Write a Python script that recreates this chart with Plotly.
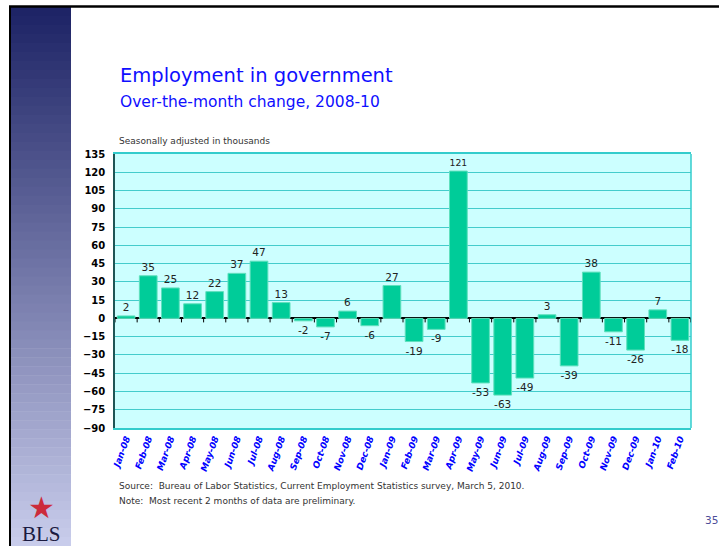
import plotly.graph_objects as go

months = ["Jan-08", "Feb-08", "Mar-08", "Apr-08", "May-08", "Jun-08", "Jul-08", "Aug-08",
          "Sep-08", "Oct-08", "Nov-08", "Dec-08", "Jan-09", "Feb-09", "Mar-09", "Apr-09",
          "May-09", "Jun-09", "Jul-09", "Aug-09", "Sep-09", "Oct-09", "Nov-09", "Dec-09",
          "Jan-10", "Feb-10"]
changes = [2, 35, 25, 12, 22, 37, 47, 13, -2, -7, 6, -6, 27, -19, -9, 121,
           -53, -63, -49, 3, -39, 38, -11, -26, 7, -18]
y_ticks = list(range(-90, 136, 15))

W, H = 719, 546
L, R, T, B = 115, 691, 154, 428


def px(x):
    return (x - L) / (R - L)


def py(y):
    return (B - y) / (B - T)


idx = list(range(len(months)))

fig = go.Figure()
fig.add_trace(go.Bar(
    x=idx, y=changes, width=0.8,
    marker=dict(color="#00cc99", line=dict(color="#5fe0bd", width=1)),
    text=[str(v) for v in changes], textposition="outside",
    textfont=dict(family="DejaVu Sans", size=10.5, color="#222222"),
    cliponaxis=False, hoverinfo="skip",
))

shapes = []
# left navy gradient panel
top_c = (30, 36, 102)
bot_c = (200, 204, 235)
n = 60
y0p, y1p = 7, 546
for i in range(n):
    t = i / (n - 1)
    c = tuple(int(top_c[k] + (bot_c[k] - top_c[k]) * t) for k in range(3))
    ya = y0p + (y1p - y0p) * i / n
    yb = y0p + (y1p - y0p) * (i + 1) / n + 0.5
    shapes.append(dict(type="rect", xref="paper", yref="paper",
                       x0=px(11), x1=px(71), y0=py(ya), y1=py(yb),
                       fillcolor="rgb(%d,%d,%d)" % c, line=dict(width=0), layer="below"))
# black frame lines
shapes.append(dict(type="line", xref="paper", yref="paper", x0=px(9), x1=px(719),
                   y0=py(6.5), y1=py(6.5), line=dict(color="black", width=2.5)))
shapes.append(dict(type="line", xref="paper", yref="paper", x0=px(10), x1=px(10),
                   y0=py(6), y1=py(546), line=dict(color="black", width=2)))
# right border of plot
shapes.append(dict(type="line", xref="paper", yref="paper", x0=1, x1=1, y0=0, y1=1,
                   line=dict(color="#33cccc", width=1.5)))
# category tick marks on zero line
for i in range(len(months) + 1):
    shapes.append(dict(type="line", xref="x", yref="y", x0=i - 0.5, x1=i - 0.5,
                       ysizemode="pixel", yanchor=0, y0=0, y1=-4,
                       line=dict(color="black", width=1)))

annotations = [
    dict(text="Employment in government", x=px(118), y=py(75), xref="paper", yref="paper",
         xanchor="left", yanchor="middle", showarrow=False,
         font=dict(family="DejaVu Sans", size=19.5, color="#0f0fff")),
    dict(text="Over-the-month change, 2008-10", x=px(118), y=py(102), xref="paper", yref="paper",
         xanchor="left", yanchor="middle", showarrow=False,
         font=dict(family="DejaVu Sans", size=15.5, color="#0f0fff")),
    dict(text="Seasonally adjusted in thousands", x=px(117), y=py(141), xref="paper", yref="paper",
         xanchor="left", yanchor="middle", showarrow=False,
         font=dict(family="DejaVu Sans", size=9, color="#333333")),
    dict(text="Source:  Bureau of Labor Statistics, Current Employment Statistics survey, March 5, 2010.",
         x=px(117), y=py(486), xref="paper", yref="paper", xanchor="left", yanchor="middle",
         showarrow=False, font=dict(family="DejaVu Sans", size=9, color="#333333")),
    dict(text="Note:  Most recent 2 months of data are preliminary.",
         x=px(117), y=py(501), xref="paper", yref="paper", xanchor="left", yanchor="middle",
         showarrow=False, font=dict(family="DejaVu Sans", size=9, color="#333333")),
    dict(text="35", x=px(703), y=py(520), xref="paper", yref="paper", xanchor="left",
         yanchor="middle", showarrow=False,
         font=dict(family="DejaVu Sans", size=10.5, color="#4d4d99")),
    dict(text="★", x=px(41), y=py(507), xref="paper", yref="paper", xanchor="center",
         yanchor="middle", showarrow=False,
         font=dict(family="DejaVu Sans", size=30, color="#cc2b3b")),
    dict(text="BLS", x=px(41), y=py(534), xref="paper", yref="paper", xanchor="center",
         yanchor="middle", showarrow=False,
         font=dict(family="Liberation Serif", size=21, color="#1a1a40")),
]

fig.update_layout(
    width=W, height=H,
    margin=dict(l=L, r=W - R, t=T, b=H - B),
    paper_bgcolor="white", plot_bgcolor="#ccffff",
    showlegend=False, bargap=0.2,
    shapes=shapes, annotations=annotations,
    xaxis=dict(range=[-0.5, len(months) - 0.5], tickmode="array", tickvals=idx,
               ticktext=months, tickangle=-70, showgrid=False, zeroline=False,
               showline=True, mirror=True, linecolor="#33cccc", linewidth=1.5, ticks="",
               tickfont=dict(family="DejaVu Sans", size=9, color="#0000ff",
                             weight="bold", style="italic")),
    yaxis=dict(range=[-90, 135], tickmode="array", tickvals=y_ticks,
               showgrid=True, gridcolor="#44cccc", gridwidth=1,
               zeroline=True, zerolinecolor="black", zerolinewidth=1.5,
               showline=True, linecolor="#1f5555", linewidth=1.5, ticks="",
               ticklabelstandoff=6,
               tickfont=dict(family="DejaVu Sans", size=10, color="black", weight="bold")),
)

fig.write_html("out.html", config={"displayModeBar": False},
               post_script="document.body.style.margin='0';")
